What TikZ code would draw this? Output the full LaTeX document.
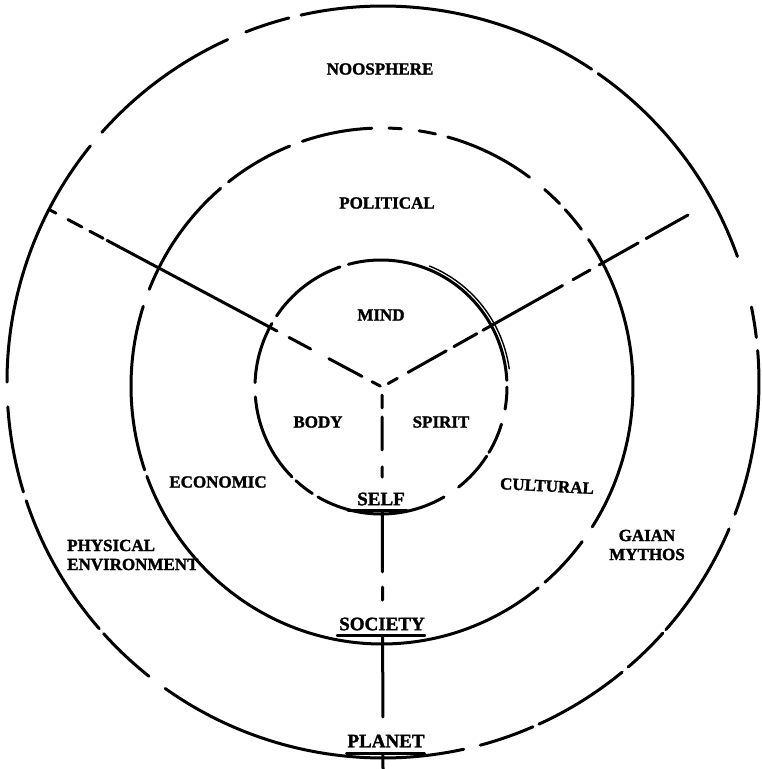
\documentclass[tikz,border=0pt]{standalone}
\usepackage{fontspec}
\setmainfont{Liberation Serif}
\newfontface\heavy{Liberation Serif Bold}[FakeBold=1.6]
\usetikzlibrary{calc}
\begin{document}
\begin{tikzpicture}[x=1pt,y=-1pt,
  ink/.style={line width=3pt, line cap=round, line join=round},
  thin ink/.style={line width=1.4pt, line cap=round},
  lbl/.style={font=\heavy\fontsize{17}{19}\selectfont, inner sep=0pt, align=center},
  biglbl/.style={font=\heavy\fontsize{19}{21}\selectfont, inner sep=0pt},
  uline/.style={line width=2.4pt, line cap=round}
]
\useasboundingbox (0,0) rectangle (762,769);

% ---- outer circle (planet) ----
\foreach \a/\b in {257.4/303.7, 304.9/340.5, 348.5/353.2, 355.2/380.6, 23/41.2, 41.9/49.3,
                   50.5/65.5, 66.5/75, 77.6/125.4, 128.5/138, 139/161.6, 163/176.2,
                   180/218.9, 221.6/245.6, 248.6/255.5}
  \draw[ink] ({383+376*cos(\a)},{382+376*sin(\a)}) arc[start angle=\a, end angle=\b, radius=376];

% ---- middle circle (society) ----
\foreach \a/\b in {325.4/393.1, 37.1/49.5, 51.5/159.5, 161/198, 202/230, 232.3/248.4,
                   251.5/267.7, 271.6/274.4, 278.5/282.3, 285.2/306, 310.4/315, 316.9/322.6}
  \draw[ink] ({382+251*cos(\a)},{386+258*sin(\a)}) arc[start angle=\a, end angle=\b, x radius=251, y radius=258];

% ---- inner circle (self) ----
\foreach \a/\b in {60/120, 123/132.5, 135/175.5, 182/210, 214/251, 255/357, 360/370, 377/391, 393/412}
  \draw[ink] ({381+126*cos(\a)},{387+127*sin(\a)}) arc[start angle=\a, end angle=\b, x radius=126, y radius=127];
\draw[thin ink] ({381+129.5*cos(292)},{387+130.5*sin(292)}) arc[start angle=292, end angle=352, x radius=129.5, y radius=130.5];

% ---- spokes ----
\coordinate (hub) at (382,387);
\coordinate (lend) at (50,210);
\coordinate (rend) at (688,215);
\coordinate (bend) at (383,769);

\foreach \s/\e in {0/0.018, 0.054/0.096, 0.12/0.16, 0.172/0.684, 0.72/0.785, 0.84/0.94, 0.97/0.995}
  \draw[ink] ($(lend)!\s!(hub)$) -- ($(lend)!\e!(hub)$);
\foreach \s/\e in {0/0.137, 0.163/0.29, 0.32/0.376, 0.41/0.67, 0.69/0.765, 0.79/0.915, 0.95/0.98}
  \draw[ink] ($(rend)!\s!(hub)$) -- ($(rend)!\e!(hub)$);
\foreach \s/\e in {0.021/0.055, 0.0785/0.165, 0.209/0.236, 0.327/0.484, 0.524/0.558, 0.654/0.864, 0.963/1}
  \draw[ink] ($(hub)!\s!(bend)$) -- ($(hub)!\e!(bend)$);

% ---- labels ----
\node[lbl] (noos) at (380,69) {NOOSPHERE};
\node[lbl] (pol) at (387,203) {POLITICAL};
\node[lbl] (mind) at (381,315) {MIND};
\node[lbl] (body) at (318,422) {BODY};
\node[lbl] (spirit) at (441,422) {SPIRIT};
\node[lbl] (econ) at (218,482) {ECONOMIC};
\node[lbl, rotate=-3] (cult) at (547,486) {CULTURAL};
\node[lbl, align=left, anchor=west] (phys) at (67,555) {PHYSICAL\\ENVIRONMENT};
\node[lbl] (gaia) at (647,545) {GAIAN\\MYTHOS};

\node[biglbl] (self) at (381,499) {SELF};
\node[biglbl] (soc) at (382,624) {SOCIETY};
\node[biglbl] (planet) at (386,741) {PLANET};

\draw[uline] ([xshift=-9pt,yshift=-5pt]self.south west) -- ([xshift=2pt,yshift=-5pt]self.south east);
\draw[uline] ([xshift=-2pt,yshift=-5pt]soc.south west) -- ([xshift=0pt,yshift=-5pt]soc.south east);
\draw[uline] ([xshift=-1pt,yshift=-6pt]planet.south west) -- ([xshift=0pt,yshift=-6pt]planet.south east);
\end{tikzpicture}
\end{document}
